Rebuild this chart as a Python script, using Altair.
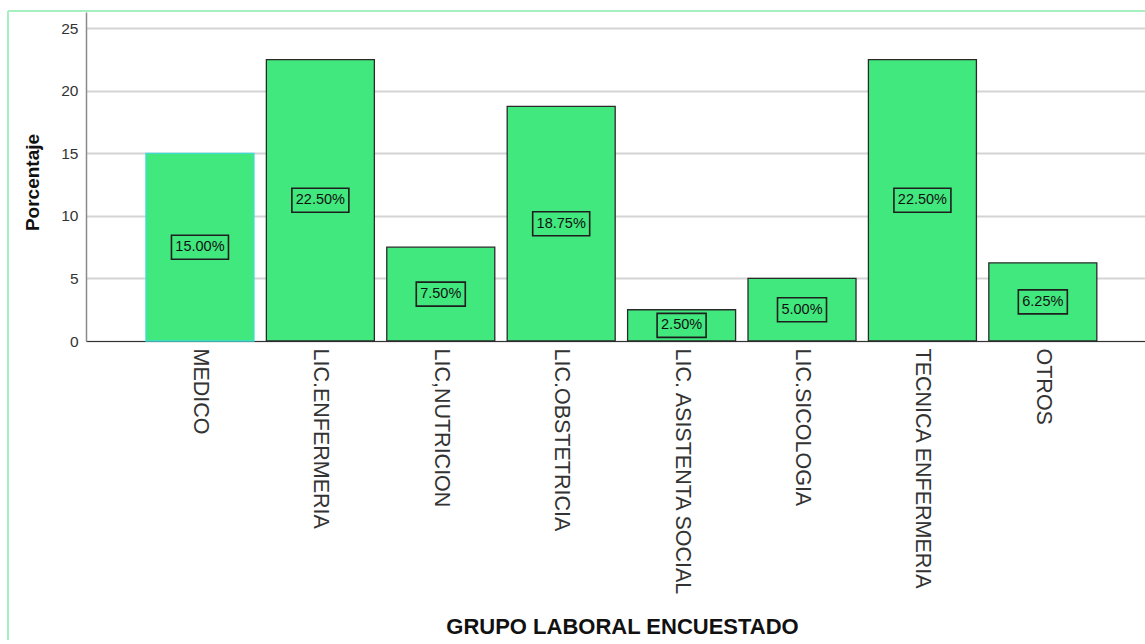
import altair as alt
import pandas as pd

# Survey data: share of respondents per work group (percent)
grupos = [
    "MEDICO",
    "LIC.ENFERMERIA",
    "LIC,NUTRICION",
    "LIC.OBSTETRICIA",
    "LIC. ASISTENTA SOCIAL",
    "LIC.SICOLOGIA",
    "TECNICA ENFERMERIA",
    "OTROS",
]
porcentajes = [15.00, 22.50, 7.50, 18.75, 2.50, 5.00, 22.50, 6.25]

df = pd.DataFrame({"grupo": grupos, "porcentaje": porcentajes})

GREEN = "#41e87e"
FONT = "Liberation Sans"

x_scale = alt.Scale(domain=grupos, paddingInner=0.103, paddingOuter=0.449, align=0.5545)
y_scale = alt.Scale(domain=[0, 26.3], nice=False)

base = alt.Chart(df).encode(
    x=alt.X(
        "grupo:N",
        sort=grupos,
        scale=x_scale,
        title="GRUPO LABORAL ENCUESTADO",
        axis=alt.Axis(
            labelAngle=90,
            labelAlign="left",
            labelBaseline="middle",
            labelPadding=7,
            labelLimit=400,
            labelFontSize=21.5,
            labelColor="#333333",
            labelFont=FONT,
            ticks=False,
            domainColor="#333333",
            domainWidth=1.2,
            titleFont=FONT,
            titleFontSize=22,
            titleFontWeight="bold",
            titleColor="#111111",
            titleX=536,
            titleY=285,
            titleBaseline="middle",
            grid=False,
        ),
    ),
)

bars = base.mark_bar(fill=GREEN, strokeWidth=1.3).encode(
    y=alt.Y(
        "porcentaje:Q",
        scale=y_scale,
        title="Porcentaje",
        axis=alt.Axis(
            values=[0, 5, 10, 15, 20, 25],
            ticks=False,
            labelPadding=8,
            labelFontSize=15.5,
            labelColor="#333333",
            labelFont=FONT,
            domainColor="#8a8a8a",
            domainWidth=1.5,
            gridColor="#d4d4d4",
            gridWidth=2,
            titleFont=FONT,
            titleFontSize=19,
            titleFontWeight="bold",
            titleColor="#111111",
            titleX=-54,
            titleY=170,
            titleBaseline="middle",
        ),
    ),
    stroke=alt.condition(
        alt.datum.grupo == "MEDICO", alt.value("#3fdcd2"), alt.value("#2a2a2a")
    ),
)

# Label boxes centred at half bar height, sized to the label length
label_layer = base.transform_calculate(
    mitad="datum.porcentaje / 2",
    etiqueta="format(datum.porcentaje, '.2f') + '%'",
    caja="length(format(datum.porcentaje, '.2f') + '%') > 5 ? 'M-2.85,-1.2H2.85V1.2H-2.85Z' : 'M-2.45,-1.2H2.45V1.2H-2.45Z'",
)

boxes = label_layer.mark_point(filled=False, stroke="#1e1e1e", strokeWidth=1.6, opacity=1).encode(
    y=alt.Y("mitad:Q", scale=y_scale),
    shape=alt.Shape("caja:N", scale=None, legend=None),
    size=alt.value(400),
)

texts = label_layer.mark_text(fontSize=14.5, font=FONT, color="#111111", baseline="middle").encode(
    y=alt.Y("mitad:Q", scale=y_scale),
    text="etiqueta:N",
)

# Light green frame around the figure
frame_left = alt.Chart(df).mark_rule(color="#a6efc0", strokeWidth=1.5, clip=False).encode(
    x=alt.value(-78), y=alt.value(-1), y2=alt.value(640)
)
frame_top = alt.Chart(df).mark_rule(color="#a6efc0", strokeWidth=1.5, clip=False).encode(
    x=alt.value(-78), x2=alt.value(1070), y=alt.value(-1)
)

chart = (
    alt.layer(bars, boxes, texts, frame_left, frame_top)
    .properties(
        width=1059,
        height=329,
        autosize=alt.AutoSizeParams(type="none"),
        padding={"left": 86, "top": 12, "right": 0, "bottom": 299},
        background="white",
    )
    .configure_view(stroke=None)
)

chart.save("out.html", embed_options={"renderer": "svg", "actions": False})
